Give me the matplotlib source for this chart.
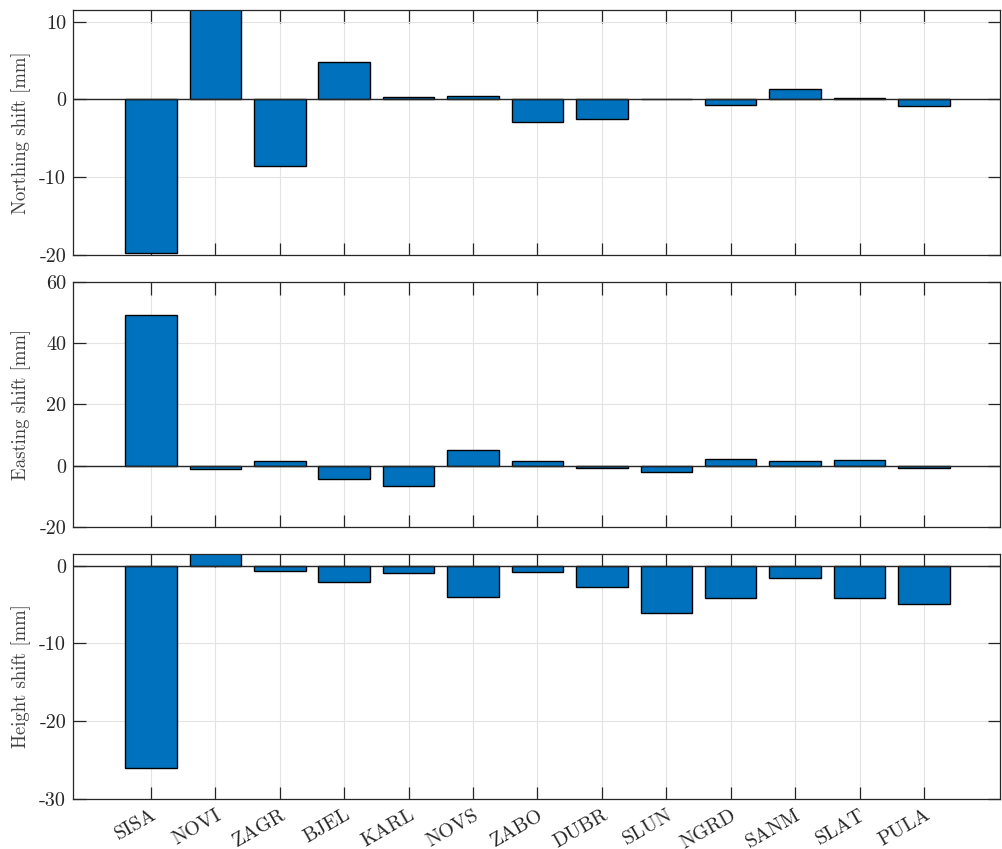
import matplotlib
matplotlib.use("Agg")
import matplotlib.pyplot as plt
import numpy as np

stations = ["SISA", "NOVI", "ZAGR", "BJEL", "KARL", "NOVS", "ZABO",
            "DUBR", "SLUN", "NGRD", "SANM", "SLAT", "PULA"]
northing = [-19.8, 14.0, -8.55, 4.8, 0.35, 0.5, -2.9, -2.5, 0.1, -0.65, 1.35, 0.2, -0.85]
easting = [49.1, -1.2, 1.6, -4.2, -6.5, 5.1, 1.6, -0.8, -2.2, 2.1, 1.4, 2.0, -0.8]
height = [-26.0, 3.0, -0.73, -2.06, -0.99, -3.99, -0.86, -2.74, -6.09, -4.16, -1.59, -4.16, -4.93]

ylabels = ["Northing shift [mm]", "Easting shift [mm]", "Height shift [mm]"]
ylims = [(-20, 11.5), (-20, 60), (-30, 1.5)]
yticks = [[-20, -10, 0, 10], [-20, 0, 20, 40, 60], [-30, -20, -10, 0]]

plt.rcParams['font.family'] = ['cmr10', 'DejaVu Serif']
plt.rcParams['axes.unicode_minus'] = False
plt.rcParams['axes.formatter.use_mathtext'] = False

fig = plt.figure(figsize=(10.02, 8.49), dpi=100)
W, H = 1002, 849
left, right = 73, 1000
tops = [10, 282, 554]
bottoms = [255, 527, 799]
axcol = '#262626'
x = np.arange(1, len(stations) + 1)

for i, (vals, lab, yl, yt) in enumerate(zip([northing, easting, height], ylabels, ylims, yticks)):
    ax = fig.add_axes([left / W, 1 - bottoms[i] / H, (right - left) / W, (bottoms[i] - tops[i]) / H])
    ax.bar(x, vals, width=0.8, color='#0072BD', edgecolor='black', linewidth=1.0, zorder=3)
    ax.axhline(0, color=axcol, linewidth=1.0, zorder=4)
    ax.set_xlim(-0.21, 14.18)
    ax.set_ylim(*yl)
    ax.set_yticks(yt)
    ax.set_yticklabels([str(v) for v in yt], fontsize=14.5)
    ax.set_xticks(x)
    if i == 2:
        ax.set_xticklabels(stations, rotation=30, ha='right',
                           rotation_mode='anchor', fontsize=14.5)
    else:
        ax.set_xticklabels([])
    ax.set_ylabel(lab, fontsize=13.5, color='#404040', labelpad=6)
    ax.grid(True, color='#E3E3E3', linewidth=0.8, zorder=0)
    ax.tick_params(direction='in', length=9, width=0.9, top=True, right=True,
                   colors=axcol, labelcolor=axcol, pad=5)
    for sp in ax.spines.values():
        sp.set_color(axcol)
        sp.set_linewidth(0.9)
        sp.set_zorder(5)

fig.savefig("out.png", dpi=100)
